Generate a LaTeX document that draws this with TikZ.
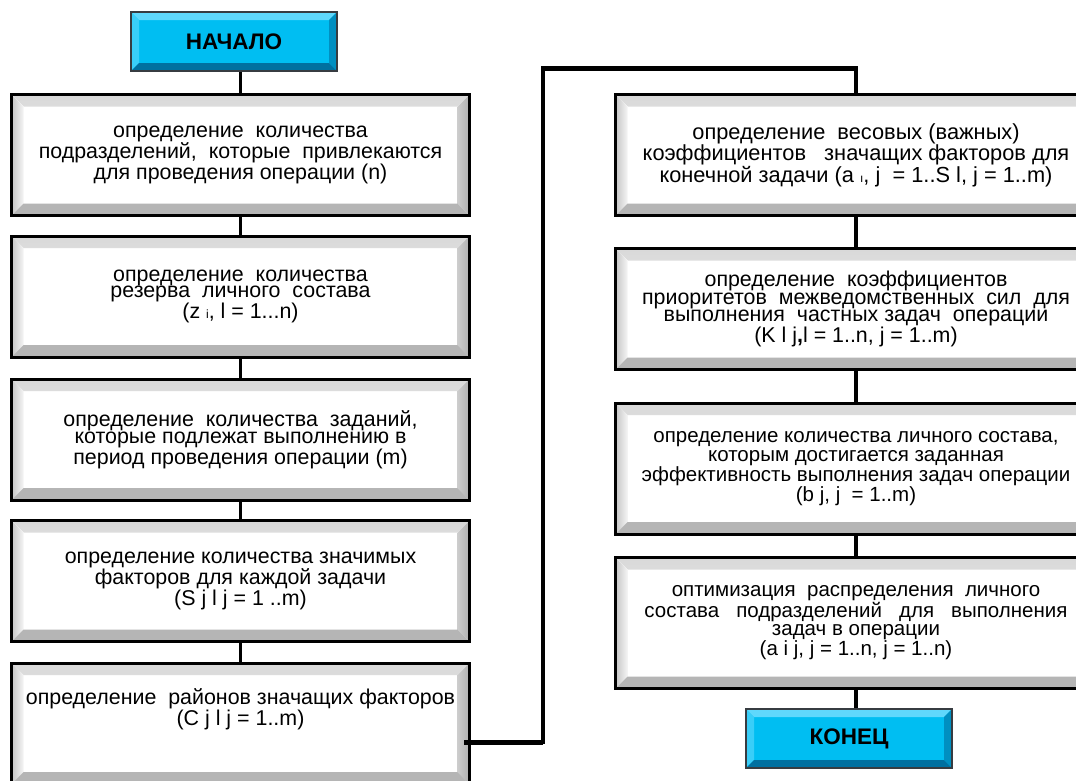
\documentclass[tikz,border=0pt]{standalone}
\usepackage{fontspec}
\setmainfont{Liberation Sans}
\usepackage{xcolor}
\definecolor{termblue}{RGB}{0,190,242}
\definecolor{termlight}{RGB}{95,216,252}
\definecolor{termdark}{RGB}{0,112,160}
\definecolor{termedge}{RGB}{55,60,65}

\begin{document}
\begin{tikzpicture}[x=1pt,y=-1pt,
  link/.style={line width=3.5pt},
  bevel/.style n args={5}{path picture={
    \fill[#2] (path picture bounding box.north west) -- (path picture bounding box.north east)
      -- ([shift={(-#1,#1)}]path picture bounding box.north east)
      -- ([shift={(#1,#1)}]path picture bounding box.north west) -- cycle;
    \fill[#3] (path picture bounding box.north west) -- ([shift={(#1,#1)}]path picture bounding box.north west)
      -- ([shift={(#1,-#1)}]path picture bounding box.south west) -- (path picture bounding box.south west) -- cycle;
    \fill[#4] (path picture bounding box.north east) -- ([shift={(-#1,#1)}]path picture bounding box.north east)
      -- ([shift={(-#1,-#1)}]path picture bounding box.south east) -- (path picture bounding box.south east) -- cycle;
    \fill[#5] (path picture bounding box.south west) -- ([shift={(#1,-#1)}]path picture bounding box.south west)
      -- ([shift={(-#1,-#1)}]path picture bounding box.south east) -- (path picture bounding box.south east) -- cycle;
  }},
  stepbox/.style={draw=black, line width=3pt, fill=white, inner sep=0pt, align=center,
    minimum width=458pt, minimum height=121pt, font=\fontsize{21.4}{16.7}\selectfont,
    bevel={12}{top color=gray!30,bottom color=gray!4}{left color=gray!45,right color=gray!8}%
      {left color=gray!40,right color=gray!62}{gray!58}},
  rightbox/.style={stepbox, minimum width=481pt},
  widebox/.style={rightbox, minimum height=131pt, font=\fontsize{20.5}{18.5}\selectfont},
  termbox/.style={draw=termedge, line width=1.2pt, fill=termblue, inner sep=0pt,
    minimum width=206pt, minimum height=59pt, font=\fontsize{22.5}{22}\selectfont\bfseries,
    bevel={8}{termlight}{termlight!60!termblue}{termdark!60!termblue}{termdark}}
]
\path[use as bounding box, clip] (0,0) rectangle (1076,780);

% left column
\node[termbox] (start) at (234,41.5) {НАЧАЛО};
\node[stepbox] (b1) at (240.5,155) {определение~ количества\\ подразделений,~ которые~ привлекаются\\ для проведения операции (n)};
\node[stepbox] (b2) at (240.5,296.5) {определение~ количества\\ резерва~ личного~ состава\\ (z {\fontsize{12}{12}\selectfont i}, l = 1...n)};
\node[stepbox] (b3) at (240.5,439.5) {определение~ количества~ заданий,\\ которые подлежат выполнению в\\ период проведения операции (m)};
\node[stepbox] (b4) at (240.5,581) {определение количества значимых\\ факторов для каждой задачи\\ (S j l j = 1 ..m)};
\node[stepbox] (b5) at (240.5,723.5) {определение~ районов значащих факторов\\ (C j l j = 1..m)\\ \mbox{}\\ \mbox{}};

% right column
\node[rightbox, font=\fontsize{21.8}{17}\selectfont] (r1) at (856,155) {определение~ весовых (важных)\\ коэффициентов~~ значащих факторов для\\ конечной задачи (a {\fontsize{12}{12}\selectfont ı}, j~ = 1..S l, j = 1..m)};
\node[rightbox, font=\fontsize{21.4}{17.5}\selectfont] (r2) at (856,309) {определение~ коэффициентов\\ приоритетов~ межведомственных~ сил~ для\\ выполнения~ частных задач~ операции\\ (K l j{\bfseries ,}l = 1..n, j = 1..m)};
\node[widebox] (r3) at (856,468.5) {определение количества личного состава,\\ которым достигается заданная\\ эффективность выполнения задач операции\\ (b j, j~ = 1..m)};
\node[widebox] (r4) at (856,623) {оптимизация~ распределения~ личного\\ состава~~ подразделений~~ для~~ выполнения\\ задач в операции\\ (a i j, j = 1..n, j = 1..n)};
\node[termbox] (stop) at (849,738.5) {КОНЕЦ};

% connectors
\draw[link] (b1.north |- start.south) -- (b1.north);
\foreach \u/\v in {b1/b2,b2/b3,b3/b4,b4/b5,r1/r2,r2/r3,r3/r4}
  \draw[link] (\u.south) -- (\v.north);
\draw[link] (r4.south) -- (r4.south |- stop.north);

\coordinate (turn) at (543,68);
\coordinate (exit) at ([shift={(-7,18.5)}]b5.east);
\draw[link, line width=3.2pt] (exit) -| (turn) -| (r1.north);
\draw[line width=5pt] (exit) -- (exit -| turn);
\draw[line width=5pt] ([xshift=-1.6pt]turn) -- (turn -| r1.north);
\end{tikzpicture}
\end{document}
